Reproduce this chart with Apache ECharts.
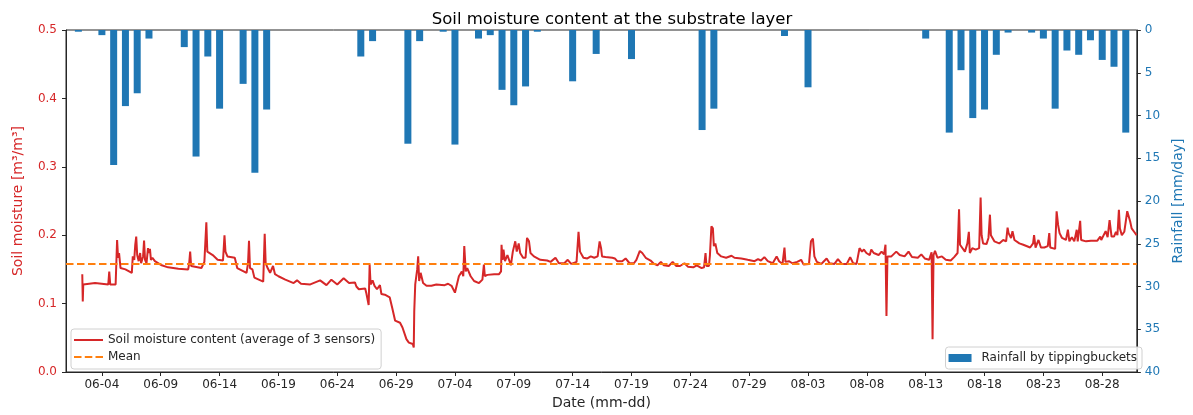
<!DOCTYPE html>
<html>
<head>
<meta charset="utf-8">
<script src="https://cdn.jsdelivr.net/npm/echarts@6/dist/echarts.min.js"></script>
<style>
  html, body { margin: 0; padding: 0; background: #fff; }
  #chart { width: 1193px; height: 415px; }
</style>
</head>
<body>
<div id="chart"></div>
<script>
// Daily rainfall from the tipping buckets (mm/day)
const rainDates = ['06-02','06-04','06-05','06-06','06-07','06-08','06-11','06-12','06-13','06-14',
  '06-16','06-17','06-18','06-26','06-27','06-30','07-01','07-03','07-04','07-06','07-07','07-08',
  '07-09','07-10','07-11','07-14','07-16','07-19','07-25','07-26','08-01','08-03','08-13','08-15',
  '08-16','08-17','08-18','08-19','08-20','08-22','08-23','08-24','08-25','08-26','08-27','08-28',
  '08-29','08-30'];
const rainValues = [0.2, 0.6, 15.8, 8.9, 7.4, 1.0, 2.0, 14.8, 3.1, 9.2,
  6.3, 16.7, 9.3, 3.1, 1.3, 13.3, 1.3, 0.2, 13.4, 1.0, 0.6, 7.0,
  8.8, 6.6, 0.2, 6.0, 2.8, 3.4, 11.7, 9.2, 0.7, 6.7, 1.0, 12.0,
  4.7, 10.3, 9.3, 2.9, 0.3, 0.3, 1.0, 9.2, 2.4, 2.9, 1.2, 3.5,
  4.3, 12.0];

// Soil moisture, average of the three sensors: ['MM-DD HH', m3/m3]
const soilMoisture = [
  ['06-02 08',0.143],['06-02 09',0.103],['06-02 10',0.128],['06-03 10',0.130],['06-04 13',0.128],
  ['06-04 15',0.147],['06-04 17',0.128],['06-05 04',0.128],['06-05 06',0.171],['06-05 07',0.193],
  ['06-05 09',0.167],['06-05 11',0.174],['06-05 14',0.152],['06-06 00',0.150],['06-06 13',0.145],
  ['06-06 15',0.169],['06-06 18',0.164],['06-06 20',0.186],['06-06 22',0.198],['06-07 00',0.171],
  ['06-07 03',0.162],['06-07 06',0.174],['06-07 08',0.159],['06-07 12',0.169],['06-07 14',0.192],
  ['06-07 16',0.164],['06-07 19',0.159],['06-07 22',0.181],['06-08 00',0.174],['06-08 02',0.180],
  ['06-08 04',0.164],['06-08 07',0.167],['06-08 12',0.162],['06-09 02',0.156],['06-09 15',0.153],
  ['06-10 12',0.151],['06-11 08',0.150],['06-11 10',0.159],['06-11 12',0.176],['06-11 14',0.155],
  ['06-12 11',0.152],['06-12 15',0.153],['06-12 17',0.161],['06-12 21',0.219],['06-12 23',0.176],
  ['06-13 03',0.177],['06-13 10',0.171],['06-13 20',0.164],['06-14 07',0.163],['06-14 10',0.200],
  ['06-14 12',0.176],['06-14 16',0.169],['06-15 07',0.167],['06-15 12',0.152],['06-15 23',0.148],
  ['06-16 07',0.145],['06-16 10',0.159],['06-16 12',0.192],['06-16 14',0.152],['06-16 19',0.150],
  ['06-16 23',0.138],['06-17 08',0.135],['06-17 17',0.132],['06-17 20',0.202],['06-17 22',0.159],
  ['06-18 02',0.152],['06-18 07',0.145],['06-18 13',0.155],['06-18 17',0.143],['06-19 00',0.140],
  ['06-19 14',0.135],['06-20 07',0.130],['06-20 14',0.134],['06-20 22',0.129],['06-21 17',0.128],
  ['06-22 13',0.134],['06-23 02',0.127],['06-23 12',0.135],['06-24 00',0.128],['06-24 13',0.137],
  ['06-25 00',0.130],['06-25 12',0.131],['06-25 15',0.125],['06-25 20',0.121],['06-26 09',0.122],
  ['06-26 11',0.116],['06-26 14',0.114],['06-26 16',0.098],['06-26 18',0.157],['06-26 20',0.128],
  ['06-27 00',0.134],['06-27 04',0.126],['06-27 09',0.121],['06-27 15',0.127],['06-27 18',0.114],
  ['06-28 01',0.113],['06-28 11',0.109],['06-28 16',0.094],['06-28 22',0.075],['06-29 08',0.072],
  ['06-29 13',0.065],['06-29 21',0.048],['06-30 02',0.043],['06-30 10',0.041],['06-30 12',0.036],
  ['06-30 13',0.089],['06-30 15',0.128],['06-30 19',0.150],['06-30 21',0.169],['06-30 23',0.133],
  ['07-01 02',0.145],['07-01 07',0.130],['07-01 14',0.126],['07-02 00',0.126],['07-02 10',0.128],
  ['07-03 03',0.127],['07-03 10',0.129],['07-03 17',0.126],['07-04 00',0.116],['07-04 03',0.118],
  ['07-04 08',0.140],['07-04 14',0.147],['07-04 17',0.140],['07-04 19',0.184],['07-04 22',0.147],
  ['07-05 01',0.152],['07-05 08',0.140],['07-05 15',0.133],['07-06 01',0.130],['07-06 08',0.135],
  ['07-06 11',0.157],['07-06 13',0.140],['07-06 18',0.142],['07-07 08',0.143],['07-07 18',0.143],
  ['07-07 22',0.147],['07-07 23',0.186],['07-08 01',0.164],['07-08 03',0.179],['07-08 06',0.162],
  ['07-08 11',0.171],['07-08 18',0.156],['07-08 22',0.176],['07-09 03',0.191],['07-09 06',0.176],
  ['07-09 10',0.188],['07-09 13',0.174],['07-09 19',0.167],['07-10 00',0.167],['07-10 03',0.196],
  ['07-10 07',0.191],['07-10 10',0.174],['07-10 17',0.169],['07-11 06',0.164],['07-11 20',0.163],
  ['07-12 03',0.161],['07-12 13',0.167],['07-12 20',0.159],['07-13 07',0.159],['07-13 14',0.164],
  ['07-13 21',0.158],['07-14 08',0.161],['07-14 12',0.205],['07-14 15',0.176],['07-14 22',0.167],
  ['07-15 06',0.166],['07-15 13',0.169],['07-15 20',0.167],['07-16 03',0.169],['07-16 07',0.191],
  ['07-16 10',0.181],['07-16 12',0.169],['07-16 19',0.168],['07-17 09',0.167],['07-17 14',0.166],
  ['07-17 19',0.162],['07-18 05',0.162],['07-18 12',0.166],['07-18 20',0.159],['07-19 05',0.159],
  ['07-19 10',0.164],['07-19 14',0.164],['07-19 17',0.177],['07-19 22',0.174],['07-20 05',0.167],
  ['07-20 15',0.163],['07-20 22',0.158],['07-21 05',0.156],['07-21 12',0.161],['07-21 18',0.156],
  ['07-22 04',0.155],['07-22 12',0.161],['07-22 19',0.155],['07-23 03',0.155],['07-23 12',0.159],
  ['07-23 19',0.154],['07-24 06',0.153],['07-24 13',0.156],['07-24 23',0.152],['07-25 04',0.153],
  ['07-25 07',0.174],['07-25 09',0.155],['07-25 14',0.155],['07-25 16',0.171],['07-25 19',0.213],
  ['07-25 22',0.210],['07-26 00',0.184],['07-26 03',0.188],['07-26 07',0.174],['07-26 15',0.169],
  ['07-27 01',0.167],['07-27 12',0.170],['07-27 18',0.167],['07-28 08',0.166],['07-28 21',0.164],
  ['07-29 11',0.162],['07-29 18',0.165],['07-30 00',0.163],['07-30 07',0.168],['07-30 14',0.162],
  ['07-31 00',0.159],['07-31 08',0.169],['07-31 13',0.162],['07-31 20',0.158],['08-01 00',0.182],
  ['08-01 02',0.161],['08-01 09',0.162],['08-01 16',0.159],['08-02 02',0.161],['08-02 10',0.164],
  ['08-02 15',0.157],['08-03 02',0.158],['08-03 06',0.191],['08-03 10',0.195],['08-03 13',0.169],
  ['08-03 18',0.161],['08-04 03',0.158],['08-04 14',0.166],['08-04 20',0.159],['08-05 06',0.158],
  ['08-05 13',0.165],['08-05 21',0.158],['08-06 07',0.158],['08-06 14',0.168],['08-06 20',0.159],
  ['08-07 03',0.158],['08-07 09',0.181],['08-07 14',0.176],['08-07 18',0.179],['08-07 23',0.174],
  ['08-08 06',0.171],['08-08 09',0.179],['08-08 14',0.174],['08-09 00',0.171],['08-09 06',0.176],
  ['08-09 11',0.172],['08-09 14',0.186],['08-09 16',0.082],['08-09 18',0.169],['08-10 02',0.169],
  ['08-10 12',0.176],['08-10 19',0.171],['08-11 05',0.169],['08-11 13',0.176],['08-11 20',0.168],
  ['08-12 08',0.167],['08-12 15',0.172],['08-12 22',0.166],['08-13 07',0.164],['08-13 12',0.175],
  ['08-13 14',0.048],['08-13 16',0.171],['08-13 19',0.177],['08-14 00',0.167],['08-14 09',0.169],
  ['08-14 17',0.164],['08-15 03',0.163],['08-15 10',0.168],['08-15 13',0.166],['08-15 17',0.174],
  ['08-15 20',0.238],['08-15 22',0.186],['08-16 02',0.184],['08-16 08',0.176],['08-16 13',0.188],
  ['08-16 16',0.205],['08-16 18',0.174],['08-16 23',0.181],['08-17 06',0.179],['08-17 13',0.181],
  ['08-17 16',0.255],['08-17 18',0.200],['08-17 21',0.188],['08-18 04',0.187],['08-18 08',0.196],
  ['08-18 11',0.230],['08-18 13',0.200],['08-18 20',0.191],['08-19 06',0.188],['08-19 14',0.193],
  ['08-19 20',0.191],['08-19 23',0.211],['08-20 01',0.203],['08-20 06',0.196],['08-20 09',0.206],
  ['08-20 13',0.193],['08-20 23',0.188],['08-21 07',0.186],['08-21 21',0.182],['08-22 03',0.188],
  ['08-22 05',0.200],['08-22 08',0.182],['08-22 14',0.193],['08-22 19',0.182],['08-23 02',0.182],
  ['08-23 09',0.184],['08-23 12',0.203],['08-23 14',0.182],['08-24 00',0.180],['08-24 03',0.235],
  ['08-24 06',0.215],['08-24 09',0.203],['08-24 14',0.196],['08-24 22',0.193],['08-25 02',0.208],
  ['08-25 05',0.191],['08-25 10',0.197],['08-25 15',0.191],['08-25 20',0.208],['08-25 22',0.191],
  ['08-26 03',0.221],['08-26 05',0.193],['08-26 15',0.191],['08-27 01',0.192],['08-27 14',0.192],
  ['08-27 20',0.198],['08-27 22',0.193],['08-28 02',0.193],['08-28 07',0.206],['08-28 11',0.197],
  ['08-28 15',0.222],['08-28 19',0.198],['08-29 00',0.198],['08-29 04',0.205],['08-29 07',0.200],
  ['08-29 10',0.237],['08-29 12',0.210],['08-29 16',0.200],['08-29 21',0.205],['08-30 03',0.235],
  ['08-30 06',0.234],['08-30 09',0.220],['08-30 12',0.210],['08-30 17',0.205],['08-30 22',0.200]
];

// Mean soil moisture over the period
const meanMoisture = 0.158;

// Date ticks on the x axis
const dateTicks = ['06-04','06-09','06-14','06-19','06-24','06-29','07-04','07-09','07-14',
  '07-19','07-24','07-29','08-03','08-08','08-13','08-18','08-23','08-28'];

const YEAR = 2019;
function toTime(s) {
  const parts = s.split(' ');
  const md = parts[0].split('-').map(Number);
  const h = parts.length > 1 ? Number(parts[1]) : 0;
  return Date.UTC(YEAR, md[0] - 1, md[1], h);
}
const pad = n => (n < 10 ? '0' : '') + n;
const fmtDate = v => { const d = new Date(v); return pad(d.getUTCMonth() + 1) + '-' + pad(d.getUTCDate()); };

const xMin = toTime('05-31 22') + 48 * 60 * 1000;
const xMax = toTime('08-30 22') + 34 * 60 * 1000;
const tickTimes = dateTicks.map(d => toTime(d));

const FONT = 'DejaVu Sans';
const INK = '#262626';
const RED = '#d62728';
const BLUE = '#1f77b4';
const ORANGE = '#ff7f0e';

// Legend handles: a solid stroke and a dashed stroke, drawn as thin filled bars
const SOLID_HANDLE = 'path://M0,0h29v2h-29z';
const DASHED_HANDLE = 'path://M0,0h7.5v2h-7.5zM10.8,0h7.5v2h-7.5zM21.5,0h7.5v2h-7.5z';

const chart = echarts.init(document.getElementById('chart'), null, { renderer: 'canvas' });
chart.setOption({
  animation: false,
  textStyle: { fontFamily: FONT },
  title: {
    text: 'Soil moisture content at the substrate layer',
    left: 607, top: 6, textAlign: 'center',
    textStyle: { fontFamily: FONT, fontSize: 16.5, fontWeight: 'normal', color: '#000' }
  },
  grid: { left: 66, right: 45, top: 30, bottom: 40, show: true, borderColor: INK, borderWidth: 1, backgroundColor: 'transparent' },
  legend: [
    {
      data: [
        { name: 'Soil moisture content (average of 3 sensors)', icon: SOLID_HANDLE, itemStyle: { color: RED, borderWidth: 0 } },
        { name: 'Mean', icon: DASHED_HANDLE, itemStyle: { color: ORANGE, borderWidth: 0 } }
      ],
      orient: 'vertical', left: 71, top: 329,
      itemWidth: 29, itemHeight: 2, itemGap: 5,
      padding: [5, 6, 6, 3],
      backgroundColor: 'rgba(255,255,255,0.85)', borderColor: '#d0d0d0', borderWidth: 1, borderRadius: 3,
      selectedMode: false,
      textStyle: { fontFamily: FONT, fontSize: 12, color: INK }
    },
    {
      data: [{ name: 'Rainfall by tippingbuckets', icon: 'rect' }],
      orient: 'vertical', right: 51, top: 347,
      itemWidth: 23, itemHeight: 8,
      padding: [5, 5, 5, 3],
      backgroundColor: 'rgba(255,255,255,0.85)', borderColor: '#d0d0d0', borderWidth: 1, borderRadius: 3,
      selectedMode: false,
      textStyle: { fontFamily: FONT, fontSize: 12, color: INK, padding: [0, 0, 0, 5] }
    }
  ],
  xAxis: {
    type: 'value', min: xMin, max: xMax, scale: true,
    name: 'Date (mm-dd)', nameLocation: 'middle', nameGap: 24,
    nameTextStyle: { fontFamily: FONT, fontSize: 14, color: INK },
    axisLine: { show: true, onZero: false, lineStyle: { color: INK, width: 1 } },
    axisTick: { show: true, length: 4, lineStyle: { color: INK }, customValues: tickTimes },
    axisLabel: { fontFamily: FONT, fontSize: 12, color: INK, margin: 7, customValues: tickTimes, formatter: v => fmtDate(v) },
    splitLine: { show: false }
  },
  yAxis: [
    {
      type: 'value', min: 0, max: 0.5, interval: 0.1, position: 'left',
      name: 'Soil moisture [m³/m³]', nameLocation: 'middle', nameGap: 41, nameRotate: 90,
      nameTextStyle: { fontFamily: FONT, fontSize: 14, color: RED },
      axisLine: { show: true, lineStyle: { color: INK } },
      axisTick: { show: true, length: 4, lineStyle: { color: INK } },
      axisLabel: { fontFamily: FONT, fontSize: 12, color: RED, margin: 9, formatter: v => v.toFixed(1) },
      splitLine: { show: false }
    },
    {
      type: 'value', min: 0, max: 40, interval: 5, position: 'right', inverse: true,
      name: 'Rainfall [mm/day]', nameLocation: 'middle', nameGap: 29, nameRotate: 90,
      nameTextStyle: { fontFamily: FONT, fontSize: 14, color: BLUE },
      axisLine: { show: true, lineStyle: { color: INK } },
      axisTick: { show: true, length: 4, lineStyle: { color: INK } },
      axisLabel: { fontFamily: FONT, fontSize: 12, color: BLUE, margin: 8 },
      splitLine: { show: false }
    }
  ],
  series: [
    {
      name: 'Soil moisture content (average of 3 sensors)',
      type: 'line', yAxisIndex: 0, z: 3,
      symbol: 'none', showSymbol: false,
      data: soilMoisture.map(p => [toTime(p[0]), p[1]]),
      lineStyle: { color: RED, width: 2 },
      itemStyle: { color: RED }
    },
    {
      name: 'Mean',
      type: 'line', yAxisIndex: 0, z: 4,
      symbol: 'none', showSymbol: false,
      data: [[xMin, meanMoisture], [xMax, meanMoisture]],
      lineStyle: { color: ORANGE, width: 2, type: [7.5, 3.5] },
      itemStyle: { color: ORANGE }
    },
    {
      name: 'Rainfall by tippingbuckets',
      type: 'bar', yAxisIndex: 1, z: 5,
      barWidth: 7,
      data: rainDates.map((d, i) => [toTime(d), rainValues[i]]),
      itemStyle: { color: BLUE }
    }
  ]
});
</script>
</body>
</html>
